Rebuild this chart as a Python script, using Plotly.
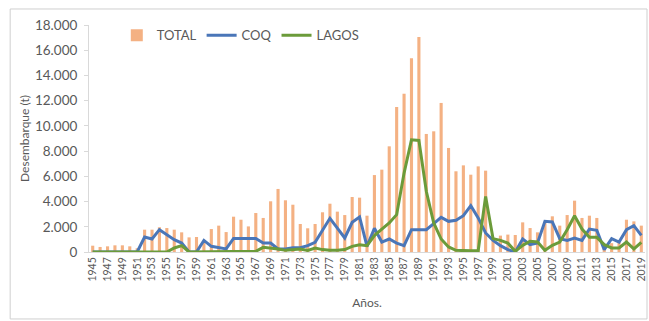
import plotly.graph_objects as go

# Desembarque anual (t)
anios = list(range(1945, 2020))

total = [500, 400, 450, 530, 530, 450, 300, 1770, 1770, 1960, 1900, 1770, 1560, 1160, 1190,
         900, 1820, 2090, 1580, 2800, 2560, 2030, 3090, 2700, 4020, 5000,
         4100, 3750, 2220, 1880, 2220, 3150, 3830, 3200, 2930, 4360,
         4310, 2880, 6100, 6530, 8380, 11500, 12550, 15360, 17050, 9360,
         9570, 11820, 8250, 6400, 6870, 6130, 6790, 6450, 900, 1300,
         1380, 1350, 2350, 1900, 1560, 2400, 2830, 2090, 2930, 4070,
         2700, 2880, 2700, 600, 700, 900, 2560, 2430, 2090]

coq = [0, 0, 0, 0, 0, 0, 0, 1190, 1030, 1770, 1370, 980, 710, 0, 0,
       920, 450, 320, 240, 1080, 1080, 1030, 1080, 710, 710, 240,
       240, 340, 340, 500, 770, 1720, 2670, 1900, 1110, 2350,
       2780, 450, 1880, 790, 1030, 710, 500, 1770, 1770, 1770,
       2250, 2750, 2430, 2510, 2880, 3670, 2700, 1510, 920, 500,
       190, 0, 1030, 580, 710, 2430, 2380, 1060, 920, 1110,
       920, 1820, 1720, 190, 1060, 790, 1770, 2090, 1320]

lagos = [0, 0, 0, 0, 0, 0, 0, 0, 0, 0, 0, 320, 500, 0, 0,
         0, 0, 0, 0, 50, 50, 50, 50, 370, 320, 240,
         130, 190, 240, 130, 320, 190, 130, 130, 190, 450,
         580, 500, 1300, 1820, 2300, 2960, 6260, 8900, 8850, 4810,
         2300, 1030, 400, 130, 100, 100, 100, 4410, 1060, 920,
         710, 50, 530, 850, 790, 130, 530, 790, 1770, 2880,
         1820, 1160, 1160, 580, 320, 320, 790, 240, 770]

gris = "#595959"
fuente = "Lato, 'Open Sans', sans-serif"

fig = go.Figure()
fig.add_trace(go.Bar(x=anios, y=total, name="TOTAL", marker_color="#F4B183",
                     marker_line_width=0, width=0.42))
fig.add_trace(go.Scatter(x=anios, y=coq, name="COQ", mode="lines",
                         line=dict(color="#4A76B8", width=3)))
fig.add_trace(go.Scatter(x=anios, y=lagos, name="LAGOS", mode="lines",
                         line=dict(color="#6B9B3A", width=3)))

fig.update_layout(
    width=649, height=321,
    margin=dict(l=89, r=4, t=25, b=69),
    paper_bgcolor="white", plot_bgcolor="white",
    separators=",.",
    font=dict(family=fuente, color=gris, size=11),
    showlegend=True,
    legend=dict(orientation="h", x=0.05, y=0.955, yanchor="middle",
                font=dict(size=13, color=gris), itemwidth=30,
                bgcolor="rgba(0,0,0,0)", traceorder="normal"),
    bargap=0.4,
)
fig.update_xaxes(
    range=[1944.5, 2019.5], tickmode="linear", tick0=1945, dtick=2,
    tickangle=-90, tickfont=dict(size=10.5, color=gris), automargin=False,
    showgrid=False, zeroline=False, showline=True, linecolor="#D9D9D9",
    ticks="", title=dict(text="Años.", font=dict(size=12, color=gris), standoff=18),
)
fig.update_yaxes(
    range=[0, 18000], dtick=2000, tickformat=",d", automargin=False,
    tickfont=dict(size=13.5, color=gris), ticklabelstandoff=4,
    showgrid=False, zeroline=False, showline=True, linecolor="#D9D9D9",
    ticks="outside", ticklen=4, tickcolor="#D9D9D9",
    title=dict(text="Desembarque (t)", font=dict(size=12, color=gris), standoff=2),
)

# marco del gráfico
fig.add_shape(type="rect", xref="paper", yref="paper",
              x0=-0.1418, x1=1.0036, y0=-0.295, y1=1.0705,
              line=dict(color="#CFCFCF", width=1))

# quitar el margen por defecto del body
fig.write_html("out.html", config={"displayModeBar": False},
               post_script="document.body.style.margin='0';")
